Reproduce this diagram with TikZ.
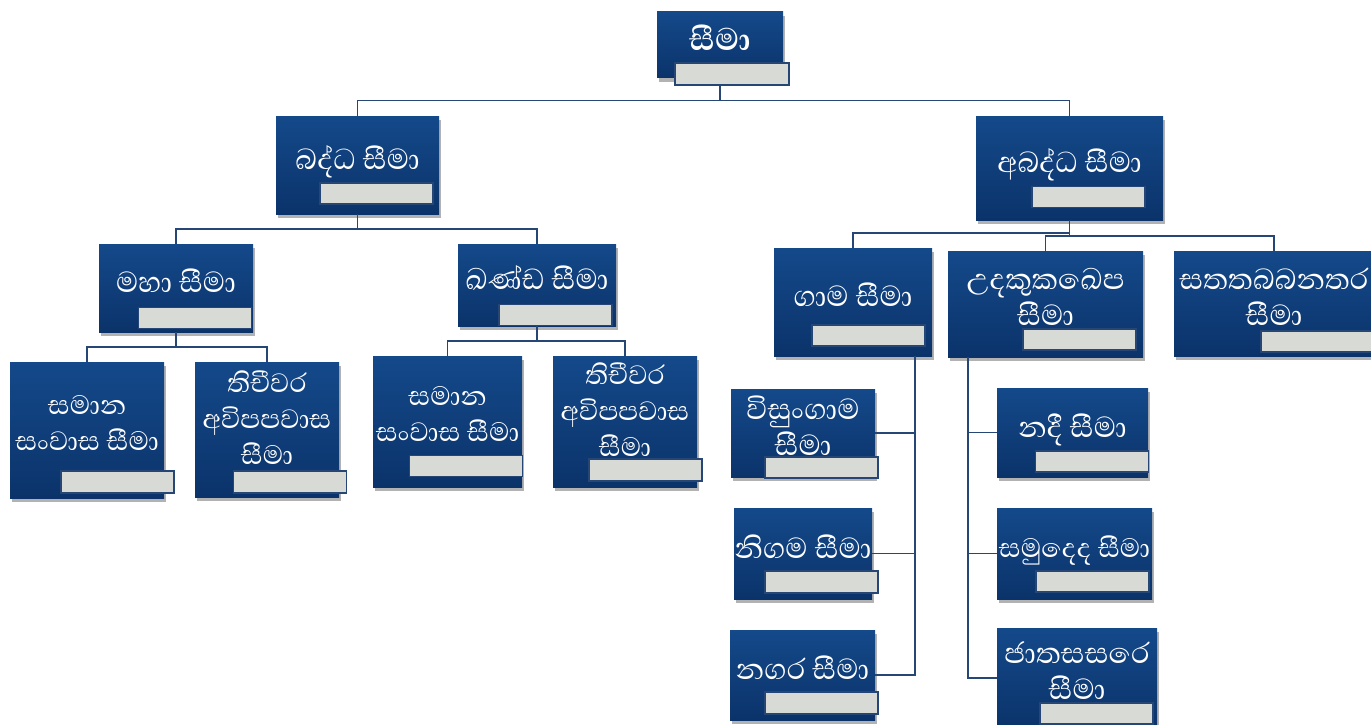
\documentclass[tikz,border=0pt]{standalone}
\usepackage{fontspec}
\setmainfont[Script=Sinhala]{Abhaya Libre}
\usetikzlibrary{shadows}
\definecolor{seemaHaut}{RGB}{20,73,138}
\definecolor{seemaBas}{RGB}{11,51,106}
\definecolor{barreGris}{RGB}{216,218,214}
\definecolor{traitBleu}{RGB}{38,70,118}
\tikzstyle{seema} = [rectangle, top color=seemaHaut, bottom color=seemaBas, text=white, align=center, inner xsep=0pt, inner ysep=2pt, text depth=14pt, font=\fontsize{37}{36}\selectfont, drop shadow={shadow xshift=2pt, shadow yshift=-4pt, opacity=0.3, fill=black}]
\tikzstyle{seema_serre} = [seema, font=\fontsize{34}{36}\selectfont]
\tikzstyle{barre} = [draw=traitBleu, fill=barreGris, rectangle, line width=1.2pt, inner sep=0pt, minimum width=113pt, minimum height=21pt]
\tikzstyle{trait} = [draw=traitBleu, line width=1.6pt]

\begin{document}
\begin{tikzpicture}[x=1pt, y=-1pt]
    \useasboundingbox (0,0) rectangle (1371,725);
    % top level
    \node [seema, minimum width=126pt, minimum height=66pt, font=\fontsize{40}{35}\bfseries] (seema) at (720,45) {සීමා};
    \node [barre, minimum width=114pt, minimum height=22pt] (seemabar) at (732,74) {};
    \node [seema, minimum width=163pt, minimum height=98pt] (baddha) at (357.5,165) {බද්ධ සීමා};
    \node [barre] (baddhabar) at (376.5,193.5) {};
    \node [seema, minimum width=187pt, minimum height=104pt] (abaddha) at (1069.5,168) {අබද්ධ සීමා};
    \node [barre] (abaddhabar) at (1088.5,197) {};

    % baddha side
    \node [seema, minimum width=154pt, minimum height=88pt] (maha) at (176,288) {මහා සීමා};
    \node [barre] (mahabar) at (195,318) {};
    \node [seema, minimum width=158pt, minimum height=82pt] (khanda) at (537,285) {ඛණ්ඩ සීමා};
    \node [barre] (khandabar) at (555.5,315) {};
    \node [seema_serre, minimum width=154pt, minimum height=136pt] (samana1) at (87,430) {සමාන\\සංවාස සීමා};
    \node [barre, minimum height=22pt] (samana1bar) at (117.5,482) {};
    \node [seema_serre, minimum width=144pt, minimum height=135pt, text depth=24pt] (tici1) at (267,429.5) {තිචීවර\\අවිපපවාස\\සීමා};
    \node [barre, minimum height=22pt] (tici1bar) at (290,482) {};
    \node [seema_serre, minimum width=149pt, minimum height=131pt] (samana2) at (447.5,421.5) {සමාන\\සංවාස සීමා};
    \node [barre] (samana2bar) at (466,466) {};
    \node [seema_serre, minimum width=144pt, minimum height=131pt, text depth=24pt] (tici2) at (625,421.5) {තිචීවර\\අවිපපවාස\\සීමා};
    \node [barre, minimum height=22pt] (tici2bar) at (645.5,470) {};

    % abaddha side
    \node [seema, minimum width=158pt, minimum height=108pt] (gama) at (853,302) {ගාම සීමා};
    \node [barre] (gamabar) at (868.5,335.5) {};
    \node [seema, minimum width=195pt, minimum height=106pt] (udaka) at (1045.5,304) {උදකුකඛෙප\\සීමා};
    \node [barre] (udakabar) at (1079.5,339.5) {};
    \node [seema, minimum width=200pt, minimum height=105pt] (satta) at (1274,303.5) {සතතබබනතර\\සීමා};
    \node [barre] (sattabar) at (1317.5,341.5) {};

    \node [seema, minimum width=144pt, minimum height=88pt] (visun) at (803,433) {විසුංගාම\\සීමා};
    \node [barre] (visunbar) at (821.5,467.5) {};
    \node [seema, minimum width=138pt, minimum height=91pt] (nigama) at (803,553.5) {නිගම සීමා};
    \node [barre, minimum height=22pt] (nigamabar) at (821.5,582) {};
    \node [seema, minimum width=145pt, minimum height=90pt] (nagara) at (802.5,675) {නගර සීමා};
    \node [barre, minimum height=22pt] (nagarabar) at (821.5,703) {};

    \node [seema, minimum width=151pt, minimum height=89pt] (nadi) at (1072.5,432.5) {නදී සීමා};
    \node [barre] (nadibar) at (1092,461.5) {};
    \node [seema_serre, minimum width=155pt, minimum height=91pt] (samudda) at (1074.5,553.5) {සමුදෙද සීමා};
    \node [barre] (samuddabar) at (1092.5,581.5) {};
    \node [seema, minimum width=160pt, minimum height=100pt] (jata) at (1077,678) {ජාතසසරෙ\\සීමා};
    \node [barre] (jatabar) at (1096.5,713.5) {};

    % connectors
    \draw [trait] (seema.south |- seemabar.south) -- ++(0,15) -| (baddha.north);
    \draw [trait] (seema.south |- seemabar.south) -- ++(0,15) -| (abaddha.north);
    \draw [trait] (baddha.south) -- ++(0,15) -| (maha.north);
    \draw [trait] (baddha.south) -- ++(0,15) -| (khanda.north);
    \draw [trait] (maha.south) -- ++(0,15) -| (samana1.north);
    \draw [trait] (maha.south) -- ++(0,15) -| (tici1.north);
    \draw [trait] (khanda.south) -- ++(0,15) -| (samana2.north);
    \draw [trait] (khanda.south) -- ++(0,15) -| (tici2.north);
    \draw [trait] (abaddha.south) -- ++(0,13) -| (gama.north);
    \draw [trait] (abaddha.south) -- ++(0,16) -| (udaka.north);
    \draw [trait] (abaddha.south) -- ++(0,16) -| (satta.north);

    \coordinate (gamatrunk) at ([xshift=62pt]gama.south);
    \draw [trait] (gamatrunk) |- (visun.east);
    \draw [trait] (gamatrunk) |- (nigama.east);
    \draw [trait] (gamatrunk) |- (nagara.east);
    \coordinate (udakatrunk) at ([xshift=-77.5pt]udaka.south);
    \draw [trait] (udakatrunk) |- (nadi.west);
    \draw [trait] (udakatrunk) |- (samudda.west);
    \draw [trait] (udakatrunk) |- (jata.west);
\end{tikzpicture}
\end{document}
